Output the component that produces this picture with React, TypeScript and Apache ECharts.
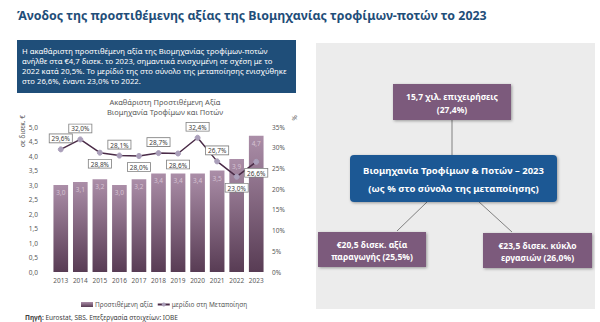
import React, { useEffect, useRef } from "react";
import * as echarts from "echarts";

const years = ["2013", "2014", "2015", "2016", "2017", "2018", "2019", "2020", "2021", "2022", "2023"];
const valueAdded = [3.0, 3.1, 3.2, 3.0, 3.2, 3.4, 3.4, 3.4, 3.5, 3.9, 4.7];
const shareManufacturing = [29.6, 32.0, 28.8, 28.1, 28.0, 28.7, 28.6, 32.4, 26.7, 23.0, 26.6];
const shareLabelSide = ["top", "top", "bottom", "top", "bottom", "top", "bottom", "top", "top", "bottom", "bottom"];

const titleText = "Άνοδος της προστιθέμενης αξίας της Βιομηχανίας τροφίμων-ποτών το 2023";
const introLines = [
  "Η ακαθάριστη προστιθέμενη αξία της Βιομηχανίας τροφίμων-ποτών",
  "ανήλθε στα €4,7 δισεκ. το 2023, σημαντικά ενισχυμένη σε σχέση με το",
  "2022 κατά 20,5%. Το μερίδιό της στο σύνολο της μεταποίησης ενισχύθηκε",
  "στο 26,6%, έναντι 23,0% το 2022.",
];
const chartTitleLines = ["Ακαθάριστη Προστιθέμενη Αξία", "Βιομηχανία Τροφίμων και Ποτών"];
const barSeriesName = "Προστιθέμενη αξία";
const lineSeriesName = "μερίδιο στη Μεταποίηση";
const leftAxisName = "σε δισεκ. €";
const topBoxLines = ["15,7 χιλ. επιχειρήσεις", "(27,4%)"];
const centerBoxLines = ["Βιομηχανία Τροφίμων & Ποτών – 2023", "(ως % στο σύνολο της μεταποίησης)"];
const leftBoxLines = ["€20,5 δισεκ. αξία", "παραγωγής (25,5%)"];
const rightBoxLines = ["€23,5 δισεκ. κύκλο", "εργασιών (26,0%)"];

const FONT = "Noto Sans";
const PURPLE = "#7b5a7b";
const BLUE = "#1f5994";
const DARKBLUE = "#1f4e79";

const comma = (v: number, d = 1) => v.toFixed(d).replace(".", ",");

function boxText(lines: string[], cx: number, cy: number, size: number, gap: number) {
  return lines.map((t, i) => ({
    type: "text",
    x: cx,
    y: cy + i * gap,
    z: 20,
    style: {
      text: t,
      fill: "#ffffff",
      font: `bold ${size}px "${FONT}"`,
      align: "center",
      verticalAlign: "middle",
    },
  }));
}

export default function App() {
  const ref = useRef<HTMLDivElement>(null);
  useEffect(() => {
    if (!ref.current) return;
    const chart = echarts.init(ref.current, null, { renderer: "svg" });
    const shadow = { shadowBlur: 3, shadowColor: "rgba(0,0,0,0.35)", shadowOffsetX: 1, shadowOffsetY: 1 };
    const option: any = {
      animation: false,
      backgroundColor: "#ffffff",
      textStyle: { fontFamily: FONT },
      grid: { left: 51, right: 334, top: 127, bottom: 50 },
      legend: {
        left: 76,
        top: 296,
        itemWidth: 12,
        itemHeight: 5,
        itemGap: 4,
        textStyle: { fontSize: 6.5, color: "#595959", fontFamily: FONT, padding: [0, 0, 0, -3] },
        data: [{ name: barSeriesName, icon: "rect" }, { name: lineSeriesName }],
      },
      xAxis: {
        type: "category",
        data: years,
        axisLine: { show: false },
        axisTick: { show: false },
        axisLabel: { fontSize: 6.5, color: "#595959", margin: 5 },
      },
      yAxis: [
        {
          type: "value",
          min: 0,
          max: 5,
          interval: 0.5,
          splitLine: { show: false },
          axisLine: { show: false },
          axisTick: { show: false },
          axisLabel: { fontSize: 6.5, color: "#595959", margin: 13, formatter: (v: number) => comma(v) },
        },
        {
          type: "value",
          min: 0,
          max: 35,
          interval: 5,
          splitLine: { show: false },
          axisLine: { show: false },
          axisTick: { show: false },
          axisLabel: { fontSize: 6.5, color: "#595959", margin: 6, formatter: (v: number) => `${v}%` },
        },
      ],
      series: [
        {
          name: barSeriesName,
          type: "bar",
          data: valueAdded,
          barWidth: "75%",
          itemStyle: {
            color: new echarts.graphic.LinearGradient(0, 0, 0, 1, [
              { offset: 0, color: "#ab8ea8" },
              { offset: 1, color: "#583c54" },
            ]),
          },
          label: {
            show: true,
            position: "insideTop",
            distance: 4,
            fontSize: 6.5,
            color: "#d6c3d3",
            formatter: (p: any) => comma(p.value),
          },
        },
        {
          name: lineSeriesName,
          type: "line",
          yAxisIndex: 1,
          data: shareManufacturing.map((v, i) => ({ value: v, label: { position: shareLabelSide[i] } })),
          lineStyle: { color: "#4b2c48", width: 1.5 },
          itemStyle: { color: "#aa9fba", borderColor: "#aa9fba" },
          symbol: "circle",
          symbolSize: 5,
          label: {
            show: true,
            distance: 4,
            fontSize: 6.5,
            color: "#404040",
            backgroundColor: "#ffffff",
            borderColor: "#7f7f7f",
            borderWidth: 0.8,
            padding: [1, 2, 0, 2],
            formatter: (p: any) => comma(p.value) + "%",
          },
        },
      ],
      graphic: [
        {
          type: "text",
          x: 17,
          y: 15,
          style: { text: titleText, fill: DARKBLUE, font: `bold 12.4px "${FONT}"`, verticalAlign: "middle" },
        },
        { type: "rect", shape: { x: 17, y: 40, width: 279, height: 53 }, style: { fill: DARKBLUE } },
        ...introLines.map((t, i) => ({
          type: "text",
          x: 22,
          y: 51 + i * 10,
          style: { text: t, fill: "#ffffff", font: `7.7px "${FONT}"`, verticalAlign: "middle" },
        })),
        ...chartTitleLines.map((t, i) => ({
          type: "text",
          x: 165,
          y: 102 + i * 9.5,
          style: { text: t, fill: "#595959", font: `7.5px "${FONT}"`, align: "center", verticalAlign: "middle" },
        })),
        {
          type: "text",
          x: 22,
          y: 131,
          rotation: Math.PI / 2,
          style: { text: leftAxisName, fill: "#595959", font: `6.5px "${FONT}"`, align: "center", verticalAlign: "middle" },
        },
        {
          type: "text",
          x: 294,
          y: 118,
          rotation: -Math.PI / 2,
          style: { text: "%", fill: "#595959", font: `6.5px "${FONT}"`, align: "center", verticalAlign: "middle" },
        },
        {
          type: "text",
          x: 25,
          y: 317,
          style: {
            text: "{b|Πηγή:} Eurostat, SBS. Επεξεργασία στοιχείων: ΙΟΒΕ",
            fill: "#404040",
            font: `6.5px "${FONT}"`,
            verticalAlign: "middle",
            rich: { b: { fontWeight: "bold", fontSize: 6.5, fill: "#404040", fontFamily: FONT } },
          },
        },
        // right panel
        { type: "rect", shape: { x: 316, y: 43, width: 279, height: 266 }, style: { fill: "#ececec" } },
        { type: "line", shape: { x1: 452, y1: 120, x2: 452, y2: 155 }, style: { stroke: "#808080", lineWidth: 1 } },
        { type: "line", shape: { x1: 427, y1: 202, x2: 397, y2: 231 }, style: { stroke: "#808080", lineWidth: 1 } },
        { type: "line", shape: { x1: 478, y1: 201, x2: 512, y2: 232 }, style: { stroke: "#808080", lineWidth: 1 } },
        { type: "rect", z: 10, shape: { x: 393, y: 84, width: 118, height: 36 }, style: { fill: PURPLE, ...shadow } },
        { type: "rect", z: 10, shape: { x: 350, y: 155, width: 207, height: 47, r: 4 }, style: { fill: BLUE, ...shadow } },
        { type: "rect", z: 10, shape: { x: 318, y: 232, width: 108, height: 35 }, style: { fill: PURPLE, ...shadow } },
        { type: "rect", z: 10, shape: { x: 483, y: 233, width: 109, height: 35 }, style: { fill: PURPLE, ...shadow } },
        ...boxText(topBoxLines, 452, 96, 8.5, 13),
        ...boxText(centerBoxLines, 453.5, 170, 9.5, 18),
        ...boxText(leftBoxLines, 372, 244, 8.5, 12),
        ...boxText(rightBoxLines, 537.5, 245, 8.5, 12),
      ],
    };
    chart.setOption(option);
    return () => chart.dispose();
  }, []);
  return <div ref={ref} style={{ position: "fixed", left: 0, top: 0, width: 600, height: 322 }} />;
}
